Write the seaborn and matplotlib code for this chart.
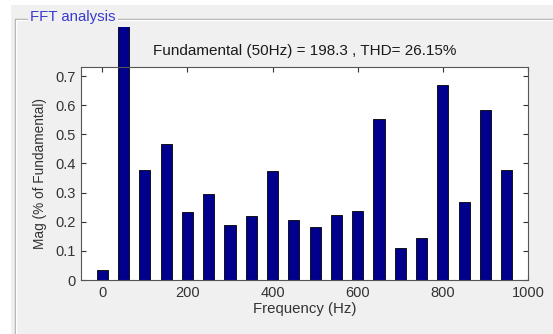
import matplotlib
matplotlib.use("Agg")
import matplotlib.pyplot as plt
import seaborn as sns
import pandas as pd
from matplotlib.transforms import Bbox, TransformedBbox
from matplotlib.lines import Line2D
from matplotlib.patches import Rectangle

# ---- data ----
freqs = [0, 50, 100, 150, 200, 250, 300, 350, 400, 450,
         500, 550, 600, 650, 700, 750, 800, 850, 900, 950]
mags = [0.036, 100.0, 0.378, 0.466, 0.234, 0.295, 0.189, 0.221, 0.375, 0.205,
        0.182, 0.223, 0.238, 0.551, 0.110, 0.145, 0.669, 0.269, 0.583, 0.379]
xticks = [0, 200, 400, 600, 800, 1000]
yticks = [0, 0.1, 0.2, 0.3, 0.4, 0.5, 0.6, 0.7]
title = "Fundamental (50Hz) = 198.3 , THD= 26.15%"
panel_title = "FFT analysis"

df = pd.DataFrame({"Frequency": freqs, "Mag": mags})

sns.set_style("white")
plt.rcParams['font.family'] = ['Liberation Sans', 'DejaVu Sans']

W, H = 553, 334
fig = plt.figure(figsize=(W / 100, H / 100), dpi=100)
fig.patch.set_facecolor("white")

# gray panel background
fig.add_artist(Rectangle((11 / W, 0), 1 - 11 / W, (H - 5) / H,
                         transform=fig.transFigure, facecolor="#f0f0f0",
                         edgecolor="none", zorder=0))

# etched group box frame
def fl(xs, ys, color, lw=1.0):
    fig.add_artist(Line2D([x / W for x in xs], [(H - y) / H for y in ys],
                          transform=fig.transFigure, color=color, lw=lw, zorder=1))

fl([14.5, 14.5, 27], [H, 18.5, 18.5], "#a8a8a8")
fl([15.5, 15.5, 27], [H, 19.5, 19.5], "#ffffff")
fl([118, W], [18.5, 18.5], "#a8a8a8")
fl([118, W], [19.5, 19.5], "#ffffff")
fig.text(29.5 / W, (H - 17.5) / H, panel_title, color="#3a3acf", fontsize=10.8,
         ha="left", va="center")

ax = fig.add_axes([81 / W, (H - 280) / H, (528 - 81) / W, (280 - 67) / H])
ax.set_facecolor("white")

sns.barplot(data=df, x="Frequency", y="Mag", native_scale=True, width=0.52,
            color="#00008c", saturation=1, edgecolor="black", linewidth=0.6,
            ax=ax, errorbar=None)

ax.set_xlim(-50, 1000)
ax.set_ylim(0, 0.731)
ax.set_xticks(xticks)
ax.set_xticklabels([str(v) for v in xticks])
ax.set_yticks(yticks)
ax.set_yticklabels(["0"] + [f"{v:.1f}" for v in yticks[1:]])

ax.tick_params(direction="in", length=3.5, width=0.8, color="#333333",
               top=True, right=True, bottom=True, left=True,
               labelsize=10.5, labelcolor="#333333", pad=4)
for s in ax.spines.values():
    s.set_visible(True)
    s.set_color("#555555")
    s.set_linewidth(0.8)

ax.set_xlabel("Frequency (Hz)", fontsize=10.8, color="#333333", labelpad=2)
ax.set_ylabel("Mag (% of Fundamental)", fontsize=9.8, color="#333333", labelpad=6)
ax.set_title(title, fontsize=11, color="#1a1a1a", pad=9)

# fundamental bar extends above the axes, clipped by the panel
clip = TransformedBbox(Bbox([[0, 0], [1, (H - 27) / H]]), fig.transFigure)
for p in ax.patches:
    x0 = p.get_x() + p.get_width() / 2
    if abs(x0 - 50) < 1:
        p.set_clip_path(None)
        p.set_clip_box(clip)

fig.savefig("out.png", dpi=100, facecolor=fig.get_facecolor())
